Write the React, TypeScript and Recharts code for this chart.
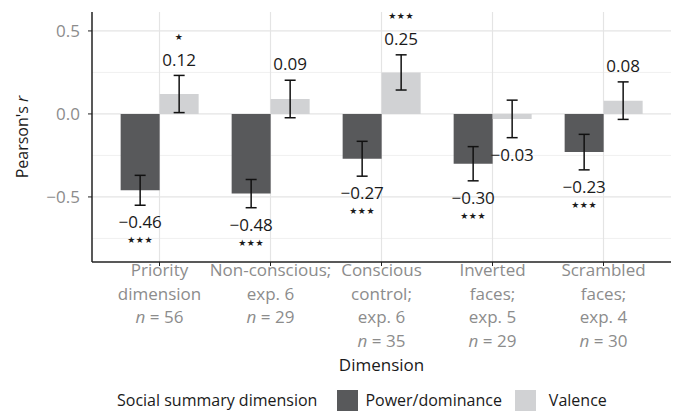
import React from "react";
import {
  BarChart,
  Bar,
  XAxis,
  YAxis,
  CartesianGrid,
  ErrorBar,
  LabelList,
  Legend,
} from "recharts";

const categories = [
  "Priority dimension",
  "Non-conscious; exp. 6",
  "Conscious control; exp. 6",
  "Inverted faces; exp. 5",
  "Scrambled faces; exp. 4",
];
const tickLines = [
  ["Priority", "dimension"],
  ["Non-conscious;", "exp. 6"],
  ["Conscious", "control;", "exp. 6"],
  ["Inverted", "faces;", "exp. 5"],
  ["Scrambled", "faces;", "exp. 4"],
];
const sampleSizes = [56, 29, 35, 29, 30];

const powerValues = [-0.46, -0.48, -0.27, -0.3, -0.23];
const powerErrors = [0.09, 0.085, 0.105, 0.103, 0.107];
const powerStars = ["***", "***", "***", "***", "***"];

const valenceValues = [0.12, 0.09, 0.25, -0.03, 0.08];
const valenceErrors = [0.112, 0.113, 0.106, 0.113, 0.113];
const valenceStars = ["*", "", "***", "", ""];

const yTicks = [-0.5, 0, 0.5];
const minorTicks = [-0.75, -0.25, 0.25];

const FONT = "'Open Sans', sans-serif";
const DARK = "#58595b";
const LIGHT = "#d1d2d4";
const GREY_TEXT = "#8c8c8c";

const data = categories.map((name, i) => ({
  name,
  power: powerValues[i],
  powerErr: powerErrors[i],
  valence: valenceValues[i],
  valenceErr: valenceErrors[i],
}));

const fmt = (v: number, digits: number) =>
  (v < 0 ? "\u2212" : "") + Math.abs(v).toFixed(digits);

function CategoryTick(props: any) {
  const { x, y, payload } = props;
  const i = categories.indexOf(payload.value);
  const lines = tickLines[i] || [];
  return (
    <text x={x} y={y} textAnchor="middle" fill={GREY_TEXT} fontSize={17} fontFamily={FONT}>
      {lines.map((line, j) => (
        <tspan key={j} x={x} dy={j === 0 ? 10 : 23.5}>
          {line}
        </tspan>
      ))}
      <tspan x={x} dy={23.5} fontStyle="italic">
        n
      </tspan>
      <tspan>{` = ${sampleSizes[i]}`}</tspan>
    </text>
  );
}

const makeBarLabel = (errors: number[], stars: string[]) => (props: any) => {
  const vb = props.viewBox || props;
  const x = Number(vb.x);
  const y = Number(vb.y);
  const w = Number(vb.width);
  const h = Number(vb.height);
  const value = Number(props.value);
  const i = props.index;
  if (!isFinite(value) || value === 0 || i == null) return null;
  const top = Math.min(y, y + h);
  const bottom = Math.max(y, y + h);
  const k = Math.abs(h) / Math.abs(value);
  const cx = x + w / 2;
  let labelY: number;
  let starY: number;
  if (value >= 0) {
    labelY = top - errors[i] * k - 16;
    starY = labelY - 23;
  } else {
    labelY = bottom + errors[i] * k + 17;
    starY = labelY + 18;
  }
  return (
    <g key={`lbl-${i}`}>
      <text x={cx} y={labelY} dy="0.36em" textAnchor="middle" fontSize={17} fill="#1a1a1a" fontFamily={FONT}>
        {fmt(value, 2)}
      </text>
      {stars[i] ? (
        <text x={cx} y={starY} dy="0.36em" textAnchor="middle" fontSize={9} fill="#1a1a1a" fontFamily="'DejaVu Sans'" letterSpacing={0.5}>
          {"\u2605".repeat(stars[i].length)}
        </text>
      ) : null}
    </g>
  );
};

function LegendBox() {
  const item = { display: "flex", alignItems: "center" } as const;
  const swatch = (c: string) => ({ width: 21, height: 21, background: c, marginRight: 7 });
  return (
    <div
      style={{
        height: 40,
        boxSizing: "border-box",
        paddingTop: 14,
        paddingLeft: 117,
        display: "flex",
        alignItems: "center",
        fontFamily: FONT,
        fontSize: 16,
        color: "#1a1a1a",
        lineHeight: "26px",
      }}
    >
      <span style={{ marginRight: 20 }}>Social summary dimension</span>
      <span style={{ ...item, marginRight: 13 }}>
        <span style={swatch(DARK)} />
        Power/dominance
      </span>
      <span style={item}>
        <span style={{ ...swatch(LIGHT), marginRight: 13 }} />
        Valence
      </span>
    </div>
  );
}

export default function App() {
  return (
    <div style={{ position: "absolute", left: 0, top: 0, background: "#fff" }}>
      <BarChart
        width={677}
        height={413}
        data={data}
        margin={{ top: 12, right: 6, left: 0, bottom: 0 }}
        barCategoryGap="15%"
        barGap={0}
      >
        <CartesianGrid
          horizontalValues={minorTicks}
          vertical={false}
          syncWithTicks
          stroke="#f0f0f0"
          strokeWidth={1}
        />
        <CartesianGrid syncWithTicks stroke="#e4e4e4" strokeWidth={1.2} />
        <XAxis
          dataKey="name"
          height={111}
          interval={0}
          padding={{ left: 12, right: 12 }}
          tick={<CategoryTick />}
          tickSize={4}
          tickMargin={0}
          axisLine={{ stroke: "#222", strokeWidth: 1.5 }}
          tickLine={{ stroke: "#222" }}
          label={{
            value: "Dimension",
            position: "insideBottom",
            offset: 2,
            fill: "#1a1a1a",
            fontSize: 17,
            fontFamily: FONT,
          }}
        />
        <YAxis
          width={92}
          domain={[-0.892, 0.614]}
          ticks={yTicks}
          allowDataOverflow
          tickFormatter={(v: number) => fmt(v, 1)}
          tick={{ fill: GREY_TEXT, fontSize: 17, fontFamily: FONT }}
          tickSize={4}
          tickMargin={8}
          axisLine={{ stroke: "#222", strokeWidth: 1.5 }}
          tickLine={{ stroke: "#222" }}
          label={{
            content: (p: any) => {
              const vb = p.viewBox || {};
              const cy = vb.y + vb.height / 2;
              return (
                <text
                  x={22}
                  y={cy}
                  transform={`rotate(-90, 22, ${cy})`}
                  textAnchor="middle"
                  dy="0.36em"
                  fontSize={16}
                  fill="#1a1a1a"
                  fontFamily={FONT}
                >
                  Pearson's <tspan fontStyle="italic">r</tspan>
                </text>
              );
            },
          }}
        />
        <Legend verticalAlign="bottom" content={() => <LegendBox />} wrapperStyle={{ left: 0, width: 677 }} />
        <Bar dataKey="power" fill={DARK} isAnimationActive={false}>
          <ErrorBar dataKey="powerErr" width={5.5} stroke="#111" strokeWidth={1.5} direction="y" />
          <LabelList dataKey="power" content={makeBarLabel(powerErrors, powerStars)} />
        </Bar>
        <Bar dataKey="valence" fill={LIGHT} isAnimationActive={false}>
          <ErrorBar dataKey="valenceErr" width={5.5} stroke="#111" strokeWidth={1.5} direction="y" />
          <LabelList dataKey="valence" content={makeBarLabel(valenceErrors, valenceStars)} />
        </Bar>
      </BarChart>
    </div>
  );
}
